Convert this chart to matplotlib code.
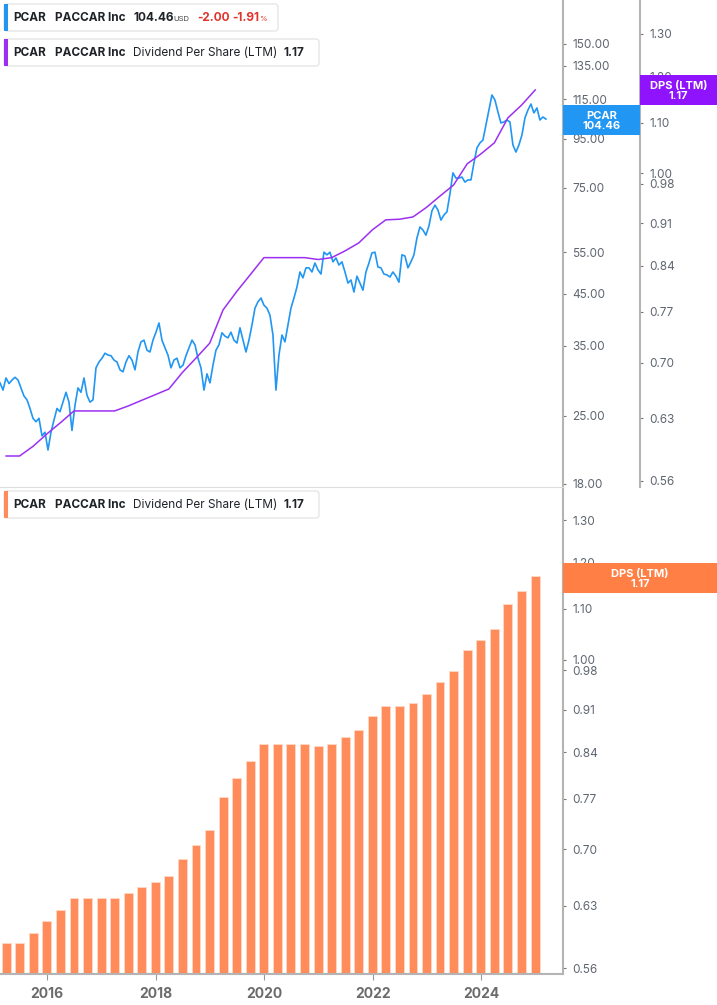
import numpy as np
import pandas as pd
import matplotlib
matplotlib.use("Agg")
import matplotlib.pyplot as plt
import matplotlib.dates as mdates
from matplotlib.patches import FancyBboxPatch, Rectangle

plt.rcParams['font.family'] = ['Inter', 'DejaVu Sans']

# PCAR close price (about every 20 days)
price = [29.3, 28.3, 30.0, 29.2, 29.7, 30.1, 29.7, 28.6, 27.5, 27.0,
         25.9, 24.7, 24.3, 24.7, 22.7, 23.1, 21.2, 23.1, 24.5, 25.9,
         25.5, 26.7, 28.0, 26.7, 23.3, 26.3, 28.6, 28.0, 30.0, 27.6,
         26.7, 27.0, 31.5, 32.4, 33.0, 33.8, 33.5, 33.4, 32.7, 32.4,
         31.2, 30.9, 32.4, 33.4, 32.7, 31.2, 34.0, 35.7, 36.0, 34.3,
         34.0, 36.0, 37.4, 39.1, 36.0, 34.7, 33.5, 31.5, 32.7, 33.0,
         31.5, 31.9, 33.4, 34.7, 36.0, 35.2, 33.0, 31.5, 28.3, 30.6,
         29.3, 31.9, 34.3, 35.2, 37.3, 36.7, 36.4, 37.4, 36.0, 35.5,
         38.2, 36.0, 34.0, 36.0, 38.7, 42.0, 43.3, 44.1, 42.6, 42.0,
         40.6, 36.9, 28.3, 33.5, 36.9, 35.7, 38.7, 42.0, 44.1, 46.5,
         50.0, 48.6, 51.0, 51.0, 50.0, 52.2, 50.5, 49.5, 55.0, 54.3,
         55.0, 52.5, 53.5, 51.7, 52.5, 50.0, 47.4, 48.1, 45.4, 49.0,
         47.4, 45.8, 50.0, 52.2, 54.8, 55.0, 51.2, 51.0, 49.5, 49.3,
         48.8, 50.0, 49.0, 47.6, 54.3, 54.0, 51.0, 52.5, 54.3, 58.9,
         62.1, 61.2, 59.7, 62.4, 67.1, 69.0, 67.4, 64.2, 65.8, 66.8,
         72.8, 80.6, 78.6, 78.6, 79.0, 77.1, 77.9, 77.9, 84.5, 90.9,
         93.1, 94.4, 101.5, 109.1, 117.3, 114.5, 108.1, 102.5, 103.0, 104.0,
         103.0, 92.2, 89.1, 92.2, 96.7, 105.0, 109.1, 112.3, 107.6, 110.2,
         104.0, 105.5, 104.46]
price_dates = pd.date_range("2015-02-18", "2025-03-13", periods=len(price))

# Dividend per share (LTM), quarterly
dps = [0.587, 0.587, 0.598, 0.612, 0.625, 0.639, 0.639, 0.639, 0.639, 0.645,
       0.652, 0.659, 0.666, 0.687, 0.706, 0.726, 0.773, 0.800, 0.826, 0.853,
       0.853, 0.853, 0.853, 0.850, 0.853, 0.864, 0.877, 0.899, 0.916, 0.917,
       0.921, 0.938, 0.958, 0.978, 1.018, 1.037, 1.059, 1.110, 1.137, 1.170]
dps_dates = pd.date_range("2015-03-31", periods=len(dps), freq="QE")

price_ticks = [18, 25, 35, 45, 55, 75, 95, 115, 135, 150]
dps_ticks = [0.56, 0.63, 0.70, 0.77, 0.84, 0.91, 0.98, 1.00, 1.10, 1.20, 1.30]
years = [2016, 2018, 2020, 2022, 2024]

blue = '#2196F3'
purple = '#9B30F2'
orange = '#FF8C5A'
gray_txt = '#5f6670'
spine_c = '#b4b4b4'

W, H = 717, 1005
fig = plt.figure(figsize=(W / 100, H / 100), dpi=100)


def rect(x0, y0, x1, y1):
    return [x0 / W, 1 - y1 / H, (x1 - x0) / W, (y1 - y0) / H]


xlim = (pd.Timestamp("2015-02-18"), pd.Timestamp("2025-07-06"))

# ---- top panel: price + DPS line
ax = fig.add_axes(rect(0, 0, 563, 487))
ax2 = ax.twinx()

ax.plot(price_dates, price, color=blue, lw=1.2)
ax.set_yscale('log')
ax.set_ylim(17.74, 185.4)
ax.set_xlim(*xlim)
ax.set_xticks([])
ax.yaxis.tick_right()
ax.yaxis.set_label_position('right')
ax.set_yticks(price_ticks)
ax.set_yticklabels([f"{v:.2f}" for v in price_ticks])
ax.yaxis.set_minor_locator(plt.NullLocator())
for s in ['left', 'top']:
    ax.spines[s].set_visible(False)
ax.spines['bottom'].set_color('#dddddd')
ax.spines['right'].set_color(spine_c)
ax.spines['right'].set_linewidth(1.5)
ax.tick_params(axis='y', which='both', left=False, labelleft=False,
               right=True, labelright=True, length=2.5, color='#777',
               labelsize=8.5, labelcolor=gray_txt, pad=4)

ax2.plot(dps_dates, dps, color=purple, lw=1.1)
ax2.set_yscale('log')
ax2.set_ylim(0.5537, 1.386)
ax2.set_xlim(*xlim)
ax2.set_yticks(dps_ticks)
ax2.set_yticklabels([f"{v:.2f}" for v in dps_ticks])
ax2.yaxis.set_minor_locator(plt.NullLocator())
for s in ['left', 'top', 'bottom']:
    ax2.spines[s].set_visible(False)
ax2.spines['right'].set_position(('axes', 640 / 563))
ax2.spines['right'].set_color(spine_c)
ax2.spines['right'].set_linewidth(1.5)
ax2.tick_params(axis='y', length=2.5, color='#777', labelsize=8.5,
                labelcolor=gray_txt, pad=4)

# ---- bottom panel: DPS bars
axb = fig.add_axes(rect(0, 489, 563, 974))
axb.bar(dps_dates, dps, width=60, color=orange, edgecolor='#ffd9c7', linewidth=0.6)
axb.set_yscale('log')
axb.set_ylim(0.554, 1.378)
axb.set_xlim(*xlim)
axb.yaxis.tick_right()
axb.set_yticks(dps_ticks)
axb.set_yticklabels([f"{v:.2f}" for v in dps_ticks])
axb.yaxis.set_minor_locator(plt.NullLocator())
axb.set_xticks([pd.Timestamp(f"{y}-01-01") for y in years])
axb.xaxis.set_major_formatter(mdates.DateFormatter('%Y'))
for s in ['left', 'top']:
    axb.spines[s].set_visible(False)
for s in ['right', 'bottom']:
    axb.spines[s].set_color(spine_c)
    axb.spines[s].set_linewidth(1.5)
axb.tick_params(axis='y', length=2.5, color='#777', labelsize=8.5,
                labelcolor=gray_txt, pad=4)
axb.tick_params(axis='x', length=4, color='#999', labelsize=10,
                labelcolor='#6b6b6b', pad=5)
for t in axb.get_xticklabels():
    t.set_fontweight('bold')

# ---- overlay in pixel coords for legends and value tags
ov = fig.add_axes([0, 0, 1, 1], zorder=10)
ov.set_xlim(0, W)
ov.set_ylim(H, 0)
ov.axis('off')


def legend_box(y0, x1, col):
    ov.add_patch(FancyBboxPatch((4, y0), x1 - 4, 27, boxstyle='round,pad=0,rounding_size=3',
                                fc='white', ec='#e6e6e6', lw=1))
    ov.add_patch(Rectangle((4, y0), 3.5, 27, fc=col, ec='none'))


def legend_text(x, y, s, **kw):
    kw.setdefault('color', '#1f2328')
    kw.setdefault('fontsize', 8.5)
    ov.text(x, y, s, va='center', ha='left', **kw)


legend_box(4, 278, blue)
legend_text(13, 17.5, 'PCAR', weight='bold')
legend_text(55, 17.5, 'PACCAR Inc', weight='bold')
legend_text(133, 17.5, '104.46', weight='bold')
legend_text(173, 18.5, 'USD', fontsize=5.5, color='#444')
legend_text(197, 17.5, '-2.00', weight='bold', color='#e0342c')
legend_text(232, 17.5, '-1.91', weight='bold', color='#e0342c')
legend_text(259.5, 18.5, '%', fontsize=5.5, color='#e0342c')

for y0, col in [(39, purple), (491, orange)]:
    legend_box(y0, 319, col)
    yc = y0 + 13.5
    legend_text(13, yc, 'PCAR', weight='bold')
    legend_text(55, yc, 'PACCAR Inc', weight='bold')
    legend_text(133, yc, 'Dividend Per Share (LTM)')
    legend_text(283, yc, '1.17', weight='bold')

tags = [(563, 105, 77, blue, 'PCAR\n104.46'),
        (640, 75, 77, '#9013FE', 'DPS (LTM)\n1.17'),
        (563, 563, 154, '#FF7F45', 'DPS (LTM)\n1.17')]
for x0, y0, w, col, s in tags:
    ov.add_patch(Rectangle((x0, y0), w, 30, fc=col, ec='none'))
    ov.text(x0 + w / 2, y0 + 15.5, s, color='white', weight='bold', fontsize=8,
            ha='center', va='center', linespacing=1.0)

fig.savefig('out.png', dpi=100)
